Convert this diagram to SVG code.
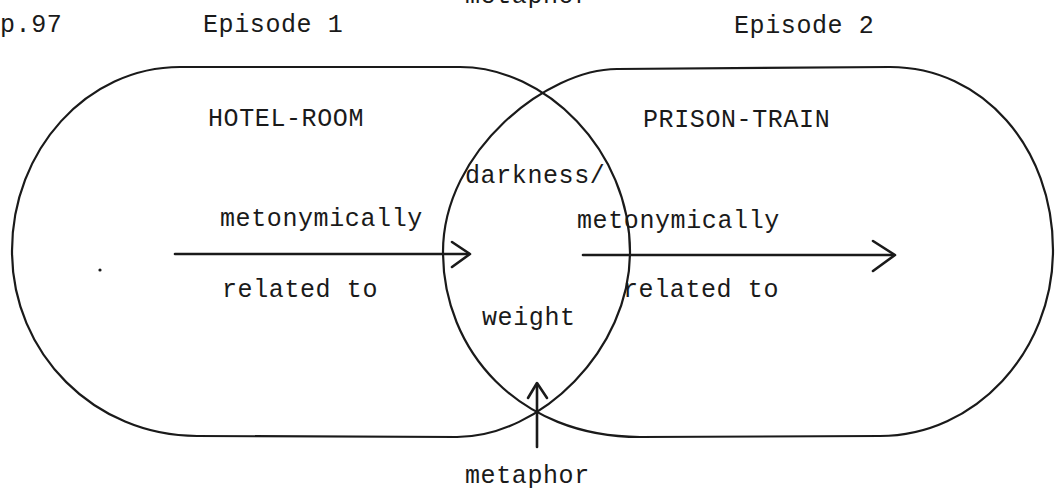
<svg xmlns="http://www.w3.org/2000/svg" width="1061" height="491" viewBox="0 0 1061 491">
<style>
.t{font-family:"Liberation Mono","DejaVu Sans Mono",monospace;font-size:25px;letter-spacing:0.6px;fill:#1a1a1a}
.shape{fill:none;stroke:#1a1a1a;stroke-width:2.2;stroke-linejoin:round}
.ln{fill:none;stroke:#1a1a1a;stroke-width:2.6;stroke-linecap:round;stroke-linejoin:round}
</style>
<rect width="1061" height="491" fill="#ffffff"/>
<g id="labels">
<text class="t" x="0" y="32">p.97</text>
<text class="t" x="203" y="32">Episode 1</text>
<text class="t" x="734" y="33">Episode 2</text>
<text class="t" x="465" y="3">metaphor</text>
</g>
<g id="episode1">
<path class="shape" d="M 180 67 L 460 67 C 545 67 630 150 630 252 C 630 350 540 437 457 437 L 197 436 C 95 436 12 354 12 251 C 12 150 87 67 180 67 Z"/>
<text class="t" x="208" y="126">HOTEL-ROOM</text>
<circle cx="100" cy="270" r="1.6" fill="#1a1a1a"/>
</g>
<g id="episode2">
<path class="shape" d="M 617 69 L 890 67 C 983 67 1053 148 1053 250 C 1053 352 975 436 880 436 L 640 437 C 518 437 443 350 443 252 C 443 150 548 69 617 69 Z"/>
<text class="t" x="643" y="127">PRISON-TRAIN</text>
</g>
<g id="overlap">
<text class="t" x="465" y="183">darkness/</text>
<text class="t" x="482" y="325">weight</text>
</g>
<g id="connectors">
<g id="arrow-left">
<path class="ln" d="M 175 254 L 469 254"/>
<path class="ln" d="M 452 242 L 470 254 L 452 267"/>
<text class="t" x="220" y="226">metonymically</text>
<text class="t" x="222" y="297">related to</text>
</g>
<g id="arrow-right">
<path class="ln" d="M 583 255 L 893 255"/>
<path class="ln" d="M 873 241 L 895 255 L 873 271"/>
<text class="t" x="577" y="228">metonymically</text>
<text class="t" x="623" y="297">related to</text>
</g>
<g id="arrow-metaphor">
<path class="ln" d="M 537 447 L 537 385"/>
<path class="ln" d="M 528 398 L 537 383 L 547 398"/>
<text class="t" x="465" y="483">metaphor</text>
</g>
</g>
</svg>
